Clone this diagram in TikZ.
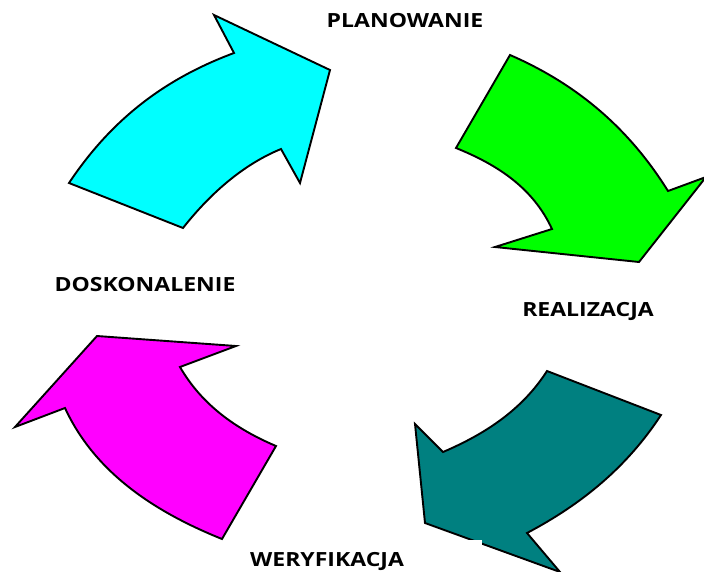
\documentclass[tikz,border=0pt]{standalone}
\usepackage{fontspec}
\setmainfont{Open Sans}[FakeStretch=1.18]
\definecolor{arcyan}{RGB}{0,255,255}
\definecolor{argreen}{RGB}{0,255,0}
\definecolor{arteal}{RGB}{0,128,128}
\definecolor{armagenta}{RGB}{255,0,255}
\begin{document}
\begin{tikzpicture}[x=1pt,y=-1pt,
  arrowshape/.style={draw=black,line width=1.9pt,line join=miter},
  lbl/.style={font=\fontsize{19.5}{22}\selectfont\bfseries,inner sep=0pt,anchor=base}]
\useasboundingbox (0,0) rectangle (704,571);
% cyan arrow (top-left)
\fill[arcyan,arrowshape] (69,183) .. controls (111,120) and (164,79) .. (234,53)
  -- (214,15) -- (330,70) -- (300,183) -- (281,149)
  .. controls (242,165) and (209,195) .. (183,228) -- cycle;
% green arrow (top-right)
\fill[argreen,arrowshape] (510,55) .. controls (579,85) and (630,130) .. (668,191)
  -- (706,177) -- (639,262) -- (495,247) -- (552,229)
  .. controls (533,188) and (498,165) .. (456,148) -- cycle;
% teal arrow (bottom-right)
\fill[arteal,arrowshape] (661,415) .. controls (627,467) and (582,504) .. (527,533)
  -- (560,572) -- (425,523) -- (415,424) -- (443,452)
  .. controls (485,434) and (522,410) .. (547,371) -- cycle;
% magenta arrow (bottom-left)
\fill[armagenta,arrowshape] (222,539) .. controls (155,512) and (95,473) .. (65,408)
  -- (15,427) -- (97,336) -- (236,346) -- (180,367)
  .. controls (202,405) and (236,429) .. (276,446) -- cycle;
% white label patch at bottom
\fill[white] (240,540) rectangle (482,571);
% labels (anchored on their baselines)
\node[lbl] (plan) at (405,27) {PLANOWANIE};
\node[lbl] (real) at (588,316) {REALIZACJA};
\node[lbl] (dosk) at (145,291) {DOSKONALENIE};
\node[lbl] (wery) at (327,566) {WERYFIKACJA};
\end{tikzpicture}
\end{document}
